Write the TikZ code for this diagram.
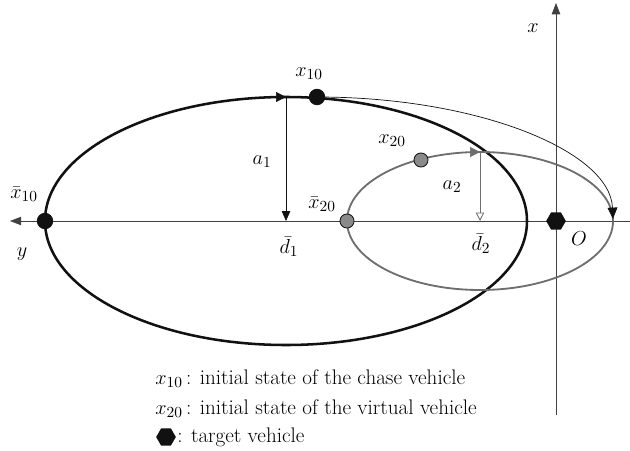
\documentclass[tikz,border=0pt]{standalone}
\usepackage{tikz}
\usepackage{xcolor}
\usetikzlibrary{arrows.meta,positioning,calc,shapes.geometric}
\definecolor{Ink}{HTML}{111111}
\definecolor{Smoke}{HTML}{6E6E6E}
\definecolor{Dot}{HTML}{8A8A8A}
\newcommand{\target}[3]{
  \node[regular polygon, regular polygon sides=6, fill=Ink, inner sep=0pt, minimum size=#3] (#1) at #2 {};
}

\begin{document}
\begin{tikzpicture}[x=0.025cm, y=0.025cm, font=\fontsize{15}{18}\selectfont,
    axis/.style={draw=Ink!80, line width=0.5pt},
    chase/.style={draw=Ink, line width=1.8pt},
    virtual/.style={draw=Smoke, line width=1.3pt},
    statedot/.style={circle, draw=Ink, line width=0.6pt, inner sep=0pt, minimum size=#1},
    dirmark/.style={-{Triangle[length=7pt,width=7pt]}}]
        \useasboundingbox (0,0) rectangle (630,450);
        \fill[white] (0,0) rectangle (630,450);
        % axes
        \coordinate (yend) at (10,229);
        \coordinate (xend) at (556,447);
        \draw[axis, -{Triangle[length=8pt,width=6pt]}] (630,229) -- (yend);
        \draw[axis, -{Triangle[length=8pt,width=6pt]}] (556,35) -- (xend);
        % orbits
        \draw[chase] (286,229) ellipse (241 and 124);
        \draw[virtual] (480,229) ellipse (133 and 69);
        \draw[Ink, line width=0.5pt, -{Triangle[length=8pt,width=7pt]}] (317,353) arc (90:1:296 and 124);
        % markers on orbits
        \coordinate (top1) at (286,353);
        \coordinate (top2) at (480,298);
        \coordinate (d1) at (286,229);
        \coordinate (d2) at (480,229);
        \draw[Ink, dirmark] ($(top1)+(-6,0)$) -- (top1);
        \draw[Smoke, dirmark] ($(top2)+(-6,0)$) -- (top2);
        \draw[Ink, line width=0.5pt, -{Triangle[length=7pt,width=6pt]}] (top1) -- (d1);
        \draw[Smoke, line width=0.6pt, -{Triangle[open,length=6pt,width=6pt]}] (top2) -- (d2);
        % states
        \node[statedot=11pt, fill=Ink] (x10) at (317,353) {};
        \node[statedot=11pt, fill=Ink] (xb10) at (45,229) {};
        \node[statedot=10pt, fill=Dot] (x20) at (421,290) {};
        \node[statedot=10pt, fill=Dot] (xb20) at (347,229) {};
        \target{tgt}{(556,229)}{14pt}
        % labels
        \node at (533,422) {$x$};
        \node at (22,196) {$y$};
        \node at (579,211) {$O$};
        \node at (309,376) {$x_{10}$};
        \node at (24,256) {$\bar{x}_{10}$};
        \node at (262,288) {$a_1$};
        \node at (289,203) {$\bar{d}_1$};
        \node at (392,309) {$x_{20}$};
        \node at (322,246) {$\bar{x}_{20}$};
        \node at (452,263) {$a_2$};
        \node at (481,206) {$\bar{d}_2$};
        % legend
        \node[anchor=base west, inner sep=0pt] (leg1) at (155,66) {$x_{10}$\,: initial state of the chase vehicle};
        \node[anchor=base west, inner sep=0pt] (leg2) at (155,36) {$x_{20}$\,: initial state of the virtual vehicle};
        \target{legt}{(166,13)}{14pt}
        \node[anchor=west, inner sep=0pt] (leg3) at (177,13) {: target vehicle};
      \end{tikzpicture}
\end{document}
